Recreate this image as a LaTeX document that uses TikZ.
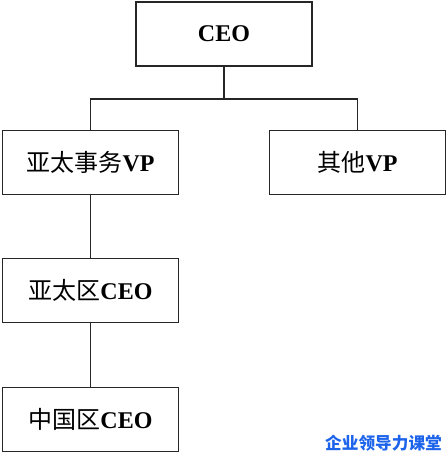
\documentclass[tikz,border=0pt]{standalone}
\usepackage{fontspec}
\setmainfont{Liberation Serif}
\newfontfamily\cjk{Noto Sans CJK SC}
\definecolor{markblue}{RGB}{30,100,235}
\begin{document}
\begin{tikzpicture}[x=0.75pt,y=-0.75pt]
        \tikzstyle{post}=[draw=black!85,line width=1.3pt,minimum width=132pt,minimum height=48pt,inner sep=0pt,font=\fontsize{18}{21}\selectfont]
        \tikzstyle{edge}=[draw=black!85,line width=0.9pt]
        \useasboundingbox (0,0) rectangle (448,454);
       \begin{scope}
         \node [post] (ceo) at (224,34) {\textbf{CEO}};
         \node [post] (apvp) at (90.5,162.5) {{\cjk 亚太事务}\textbf{VP}};
         \node [post] (othervp) at (357.5,162.5) {{\cjk 其他}\textbf{VP}};
         \node [post] (apceo) at (90.5,290.5) {{\cjk 亚太区}\textbf{CEO}};
         \node [post] (cnceo) at (90.5,419.5) {{\cjk 中国区}\textbf{CEO}};
         \coordinate (fork) at (224,99);
         \path[edge] (ceo) -- (fork);
         \path[edge] (apvp.north) |- (fork) -| (othervp.north);
         \path[edge] (apvp) -- (apceo);
         \path[edge] (apceo) -- (cnceo);
         \node [text=markblue,font=\cjk\bfseries\fontsize{12.5}{14}\selectfont] (mark) at (383.5,443) {企业领导力课堂};
        \end{scope}
      \end{tikzpicture}
\end{document}
